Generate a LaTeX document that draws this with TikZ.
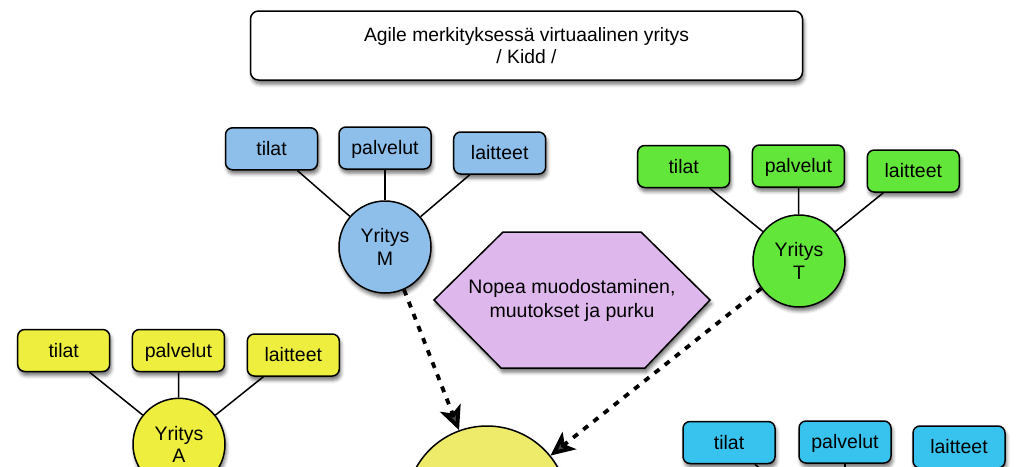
\documentclass[tikz,border=0pt]{standalone}
\usepackage{fontspec}
\setmainfont{Liberation Sans}
\usetikzlibrary{shadows.blur,arrows.meta}
\definecolor{cblue}{HTML}{8DBFEA}
\definecolor{cgreen}{HTML}{62E63A}
\definecolor{cyel}{HTML}{EEEE3E}
\definecolor{cbig}{HTML}{EEEB6A}
\definecolor{ccyan}{HTML}{38C3EE}
\definecolor{cpurp}{HTML}{DEB7EC}
\tikzset{
  shad/.style={blur shadow={shadow xshift=1.5pt, shadow yshift=-4pt, shadow blur radius=3.5pt, shadow opacity=55}},
  boxn/.style={draw, line width=1.5pt, rounded corners=7pt, minimum width=92pt, minimum height=42pt,
    inner sep=0pt, text height=13.8pt, text depth=0pt, font=\fontsize{19.5}{22}\selectfont, shad},
  circn/.style={draw, circle, line width=1.5pt, minimum size=92pt, inner sep=0pt, align=center,
    font=\fontsize{19.5}{22.5}\selectfont, shad},
  link/.style={line width=1.5pt},
  dasharrow/.style={line width=3.8pt, dash pattern=on 6pt off 7pt,
    -{Stealth[length=24pt,width=22pt,inset=6pt]}},
}
\begin{document}
\begin{tikzpicture}[x=1pt,y=-1pt]
\useasboundingbox (0,0) rectangle (1023,466);
\begin{scope}
\clip (0,0) rectangle (1023,466);
% title
\node[draw, line width=1.5pt, rounded corners=8pt, minimum width=552pt, minimum height=69pt, fill=white,
  align=center, font=\fontsize{19.3}{22.7}\selectfont, shad] (title) at (526.5,45.5)
  {Agile merkityksessä virtuaalinen yritys\\/ Kidd /};
% hexagon
\path[draw, line width=1.5pt, fill=cpurp, shad] (434,300) -- (503,232) -- (641,232) -- (710,300) -- (645,368) -- (501,368) -- cycle;
\node[align=center, font=\fontsize{19.5}{24}\selectfont] (hex) at (572,300) {Nopea muodostaminen,\\muutokset ja purku};
% group M (blue)
\node[boxn, fill=cblue] (tM) at (271.5,148.8) {tilat};
\node[boxn, fill=cblue] (pM) at (385,148) {palvelut};
\node[boxn, fill=cblue] (lM) at (499.7,153) {laitteet};
\node[circn, fill=cblue] (cM) at (385,247) {Yritys\\M};
\draw[link] (tM.-40) -- (cM);
\draw[link] (pM) -- (cM);
\draw[link] (lM.-144) -- (cM);
% group T (green)
\node[boxn, fill=cgreen] (tT) at (683.7,166.5) {tilat};
\node[boxn, fill=cgreen] (pT) at (798.4,166) {palvelut};
\node[boxn, fill=cgreen] (lT) at (913.3,171) {laitteet};
\node[circn, fill=cgreen] (cT) at (799,261) {Yritys\\T};
\draw[link] (tT.-40) -- (cT);
\draw[link] (pT) -- (cT);
\draw[link] (lT.-144) -- (cT);
% group A (yellow)
\node[boxn, fill=cyel] (tA) at (63.7,350.5) {tilat};
\node[boxn, fill=cyel] (pA) at (178.4,350.5) {palvelut};
\node[boxn, fill=cyel] (lA) at (293.3,355) {laitteet};
\node[circn, fill=cyel] (cA) at (179,444.3) {Yritys\\A};
\draw[link] (tA.-40) -- (cA);
\draw[link] (pA) -- (cA);
\draw[link] (lA.-144) -- (cA);
% big circle
\node[draw, circle, line width=1.5pt, minimum size=162pt, inner sep=0pt, fill=cbig, shad] (big) at (487,507) {};
\draw[dasharrow] (cM.-66) -- (big.110);
\draw[dasharrow] (cT.216) -- (big.39);
% group C (cyan), circle below the visible area
\node[boxn, fill=ccyan] (tC) at (729,442.5) {tilat};
\node[boxn, fill=ccyan] (pC) at (845,442) {palvelut};
\node[boxn, fill=ccyan] (lC) at (959,447) {laitteet};
\coordinate (cC) at (845,541);
\draw[link] (tC.-40) -- (cC);
\draw[link] (pC) -- (cC);
\draw[link] (lC.-144) -- (cC);
\end{scope}
\end{tikzpicture}
\end{document}
